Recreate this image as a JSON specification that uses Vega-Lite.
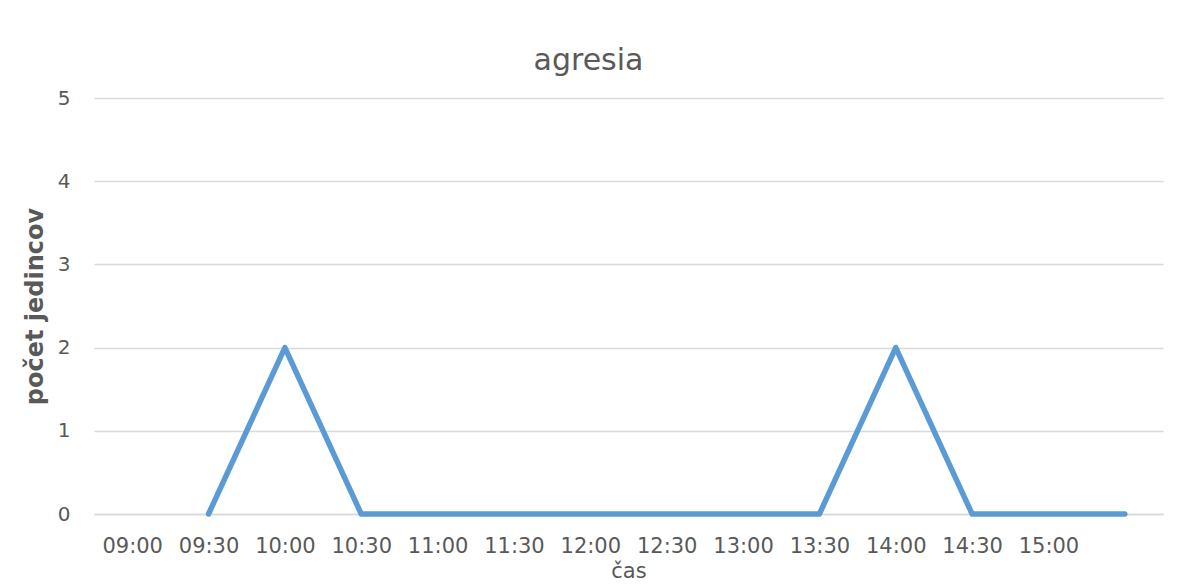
{
  "$schema": "https://vega.github.io/schema/vega-lite/v6.json",
  "width": 1069,
  "height": 416,
  "autosize": {"type": "none"},
  "padding": {"left": 94, "top": 98, "right": 27, "bottom": 71},
  "background": "white",
  "title": {
    "text": "agresia",
    "font": "DejaVu Sans",
    "fontSize": 30,
    "fontWeight": "normal",
    "color": "#595959",
    "anchor": "middle",
    "baseline": "alphabetic",
    "offset": 28,
    "dx": -40,
    "dy": 40
  },
  "data": {
    "values": [
      {"cas": "09:00", "pocet": null},
      {"cas": "09:30", "pocet": 0},
      {"cas": "10:00", "pocet": 2},
      {"cas": "10:30", "pocet": 0},
      {"cas": "11:00", "pocet": 0},
      {"cas": "11:30", "pocet": 0},
      {"cas": "12:00", "pocet": 0},
      {"cas": "12:30", "pocet": 0},
      {"cas": "13:00", "pocet": 0},
      {"cas": "13:30", "pocet": 0},
      {"cas": "14:00", "pocet": 2},
      {"cas": "14:30", "pocet": 0},
      {"cas": "15:00", "pocet": 0},
      {"cas": "15:30", "pocet": 0}
    ]
  },
  "mark": {
    "type": "line",
    "color": "#5b9bd5",
    "strokeWidth": 5.5,
    "strokeCap": "round",
    "strokeJoin": "round"
  },
  "encoding": {
    "x": {
      "field": "cas",
      "type": "ordinal",
      "sort": null,
      "scale": {
        "domain": ["09:00","09:30","10:00","10:30","11:00","11:30","12:00","12:30","13:00","13:30","14:00","14:30","15:00","15:30"],
        "padding": 0.5
      },
      "axis": {
        "title": "čas",
        "titleFont": "DejaVu Sans",
        "titleFontSize": 21,
        "titleFontWeight": "normal",
        "titleColor": "#595959",
        "titleBaseline": "alphabetic",
        "titleY": 63,
        "labelExpr": "datum.value == '15:30' ? '' : datum.value",
        "labelAngle": 0,
        "labelFont": "DejaVu Sans",
        "labelFontSize": 21,
        "labelColor": "#595959",
        "labelBaseline": "alphabetic",
        "labelPadding": 38,
        "labelOverlap": false,
        "ticks": false,
        "grid": false,
        "domain": true,
        "domainColor": "#d9d9d9",
        "domainWidth": 1.5
      }
    },
    "y": {
      "field": "pocet",
      "type": "quantitative",
      "scale": {"domain": [0, 5]},
      "axis": {
        "title": "počet jedincov",
        "titleFont": "DejaVu Sans",
        "titleFontSize": 24,
        "titleFontWeight": "bold",
        "titleColor": "#595959",
        "titleAngle": -90,
        "titleAlign": "center",
        "titleBaseline": "middle",
        "titleX": -59,
        "titleY": 208,
        "values": [0, 1, 2, 3, 4, 5],
        "labelFont": "DejaVu Sans",
        "labelFontSize": 20,
        "labelColor": "#595959",
        "labelPadding": 24,
        "ticks": false,
        "domain": false,
        "grid": true,
        "gridColor": "#d9d9d9",
        "gridWidth": 1.5
      }
    }
  },
  "config": {
    "view": {"stroke": null}
  }
}
